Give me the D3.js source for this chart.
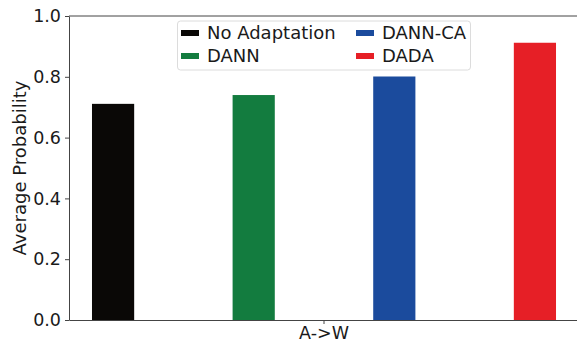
<!DOCTYPE html>
<html>
<head>
<meta charset="utf-8">
<script src="https://cdn.jsdelivr.net/npm/d3@7"></script>
<style>
  html, body { margin: 0; padding: 0; background: #fff; }
  svg { display: block; }
  text { font-family: "DejaVu Sans", sans-serif; fill: #1a1a1a; }
</style>
</head>
<body>
<svg id="chart" width="577" height="341"></svg>
<script>
const categories = ["A->W"];
const seriesNames = ["No Adaptation", "DANN", "DANN-CA", "DADA"];
const seriesValues = [0.711, 0.740, 0.801, 0.912];
const seriesColors = ["#0a0806", "#137c3f", "#1b4b9d", "#e61f26"];
const yTicks = [0.0, 0.2, 0.4, 0.6, 0.8, 1.0];

const W = 577, H = 341;
const margin = { left: 69, right: -2, top: 16, bottom: 21 };
const x0 = margin.left, x1 = W - margin.right;
const yTop = margin.top, yBot = H - margin.bottom;

const svg = d3.select("#chart");

const y = d3.scaleLinear().domain([0, 1]).range([yBot, yTop]);
const xCat = d3.scaleBand().domain(categories).range([x0, x1]);
const xSer = d3.scaleBand().domain(seriesNames).range([x0, x1])
  .paddingInner(0.7).paddingOuter(0.1635);

// bars
svg.append("g").selectAll("rect")
  .data(seriesNames.map((n, i) => ({ n, v: seriesValues[i], c: seriesColors[i] })))
  .join("rect")
  .attr("x", d => xSer(d.n))
  .attr("width", xSer.bandwidth())
  .attr("y", d => y(d.v))
  .attr("height", d => y(0) - y(d.v))
  .attr("fill", d => d.c);

// y axis
const yAxis = svg.append("g")
  .attr("transform", `translate(${x0},0)`)
  .call(d3.axisLeft(y).tickValues(yTicks).tickFormat(d3.format(".1f")).tickSize(4).tickPadding(4).tickSizeOuter(0));
yAxis.select(".domain").attr("stroke", "#444").attr("stroke-width", 1);
yAxis.selectAll(".tick line").attr("stroke", "#444");
yAxis.selectAll(".tick text").style("font-size", "17.5px").attr("fill", "#1a1a1a");

// x axis
const xAxis = svg.append("g")
  .attr("transform", `translate(0,${yBot})`)
  .call(d3.axisBottom(xCat).tickSize(4).tickPadding(3).tickSizeOuter(0));
xAxis.select(".domain").attr("stroke", "#444").attr("stroke-width", 1);
xAxis.selectAll(".tick line").attr("stroke", "#444");
xAxis.selectAll(".tick text").style("font-size", "17.5px").attr("fill", "#1a1a1a");

// top spine
svg.append("line").attr("x1", x0).attr("x2", x1).attr("y1", yTop).attr("y2", yTop)
  .attr("stroke", "#444").attr("stroke-width", 1);

// y label
svg.append("text")
  .attr("transform", `translate(26,${(yTop + yBot) / 2}) rotate(-90)`)
  .attr("text-anchor", "middle")
  .style("font-size", "18px")
  .text("Average Probability");

// legend
const lg = svg.append("g");
lg.append("rect").attr("x", 177.5).attr("y", 21).attr("width", 293).attr("height", 49)
  .attr("rx", 3).attr("fill", "#fff").attr("fill-opacity", 0.85)
  .attr("stroke", "#dcdcdc").attr("stroke-width", 1);
const colX = [181, 356];
const rowY = [33, 56];
seriesNames.forEach((n, i) => {
  const col = Math.floor(i / 2), row = i % 2;
  const g = lg.append("g").attr("transform", `translate(${colX[col]},${rowY[row]})`);
  g.append("rect").attr("x", 0).attr("y", -3).attr("width", 18).attr("height", 6).attr("fill", seriesColors[i]);
  g.append("text").attr("x", 26).attr("y", 0).attr("dy", "0.36em")
    .style("font-size", "18px").text(n);
});
</script>
</body>
</html>
